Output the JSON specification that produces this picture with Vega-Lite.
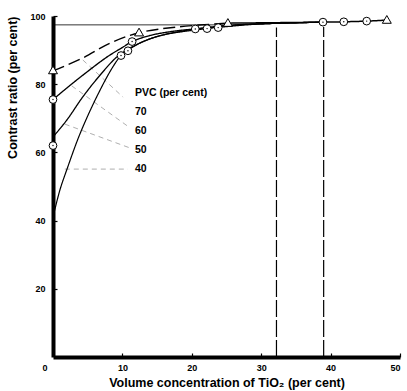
{
  "$schema": "https://vega.github.io/schema/vega-lite/v6.json",
  "width": 347,
  "height": 341,
  "autosize": {"type": "none"},
  "padding": {"left": 53, "top": 16, "right": 7, "bottom": 34},
  "background": "white",
  "config": {
    "view": {"stroke": null},
    "font": "Liberation Sans",
    "axis": {"grid": false, "domainColor": "black", "domainWidth": 4, "tickColor": "black", "tickWidth": 1.2, "labelFont": "Liberation Sans", "labelFontWeight": "bold", "labelFontSize": 9, "labelColor": "black", "titleFont": "Liberation Sans", "titleFontWeight": "bold", "titleFontSize": 12.5, "titleColor": "black"}
  },
  "datasets": {
    "curves": [
      {"series": "40", "x": 0, "y": 41}, {"series": "40", "x": 1, "y": 49}, {"series": "40", "x": 2, "y": 55}, {"series": "40", "x": 3.9, "y": 65.5}, {"series": "40", "x": 6.3, "y": 76.3}, {"series": "40", "x": 8.6, "y": 85}, {"series": "40", "x": 9.8, "y": 88.3}, {"series": "40", "x": 12, "y": 91.5}, {"series": "40", "x": 15, "y": 94}, {"series": "40", "x": 20.5, "y": 96.2}, {"series": "40", "x": 25, "y": 97.2}, {"series": "40", "x": 30, "y": 97.7}, {"series": "40", "x": 39, "y": 98.2},
      {"series": "50", "x": 0, "y": 64.5}, {"series": "50", "x": 2, "y": 69.5}, {"series": "50", "x": 4.3, "y": 76.3}, {"series": "50", "x": 6.8, "y": 82.7}, {"series": "50", "x": 9.2, "y": 88}, {"series": "50", "x": 10.6, "y": 90}, {"series": "50", "x": 13, "y": 92.5}, {"series": "50", "x": 16, "y": 94.5}, {"series": "50", "x": 22, "y": 96.3}, {"series": "50", "x": 25, "y": 97.2}, {"series": "50", "x": 30, "y": 97.7}, {"series": "50", "x": 39, "y": 98.2},
      {"series": "60", "x": 0, "y": 75.5}, {"series": "60", "x": 2, "y": 78.9}, {"series": "60", "x": 4.9, "y": 83.6}, {"series": "60", "x": 7.8, "y": 88}, {"series": "60", "x": 10.1, "y": 90.9}, {"series": "60", "x": 11.4, "y": 92.5}, {"series": "60", "x": 14, "y": 94.3}, {"series": "60", "x": 18, "y": 95.7}, {"series": "60", "x": 23.8, "y": 96.7}, {"series": "60", "x": 30, "y": 97.7}, {"series": "60", "x": 39, "y": 98.2},
      {"series": "70", "x": 0, "y": 83.9}, {"series": "70", "x": 4.3, "y": 87.7}, {"series": "70", "x": 8.2, "y": 92}, {"series": "70", "x": 12.4, "y": 95.1}, {"series": "70", "x": 18, "y": 96.8}, {"series": "70", "x": 25.2, "y": 97.9},
      {"series": "tail", "x": 25.2, "y": 97.9}, {"series": "tail", "x": 30, "y": 98}, {"series": "tail", "x": 39, "y": 98.2}, {"series": "tail", "x": 41.9, "y": 98.3}, {"series": "tail", "x": 45.2, "y": 98.5}, {"series": "tail", "x": 48.1, "y": 98.8}
    ],
    "leaders": [
      {"id": "70", "x": 4.3, "y": 87.1}, {"id": "70", "x": 10.1, "y": 76.2},
      {"id": "60", "x": 2.7, "y": 79.5}, {"id": "60", "x": 11.1, "y": 67.2},
      {"id": "50", "x": 1.7, "y": 68.3}, {"id": "50", "x": 11.1, "y": 61.3},
      {"id": "40", "x": 1.7, "y": 55.1}, {"id": "40", "x": 10.8, "y": 55.1}
    ],
    "labels": [
      {"x": 11.8, "y": 77.4, "text": "PVC (per cent)"},
      {"x": 11.8, "y": 71.8, "text": "70"},
      {"x": 11.8, "y": 66.3, "text": "60"},
      {"x": 11.8, "y": 60.7, "text": "50"},
      {"x": 11.8, "y": 55.1, "text": "40"}
    ],
    "circles": [
      {"x": 0, "y": 75.5}, {"x": 0, "y": 62}, {"x": 9.8, "y": 88.4}, {"x": 10.8, "y": 89.8}, {"x": 11.4, "y": 92.5},
      {"x": 20.5, "y": 96.2}, {"x": 22.2, "y": 96.3}, {"x": 23.8, "y": 96.6}, {"x": 38.9, "y": 98.2}, {"x": 41.9, "y": 98.3}, {"x": 45.2, "y": 98.5}
    ],
    "triangles": [
      {"x": 0, "y": 84.2}, {"x": 12.4, "y": 95.3}, {"x": 25.2, "y": 98.1}, {"x": 48.1, "y": 99}
    ],
    "vlines": [{"x": 32.2, "y": 0, "y2": 96.6}, {"x": 39, "y": 0, "y2": 96.8}],
    "hline": [{"x": 0, "x2": 25, "y": 97.4}],
    "origin": [{"x": 0, "y": 0, "text": "0"}]
  },
  "layer": [
    {
      "data": {"name": "hline"},
      "mark": {"type": "rule", "color": "black", "strokeWidth": 0.8},
      "encoding": {
        "x": {"field": "x", "type": "quantitative", "scale": {"domain": [0, 50], "nice": false}, "axis": {"values": [10, 20, 30, 40, 50], "tickSize": -4, "labelPadding": 10, "title": "Volume concentration of TiO₂ (per cent)", "titlePadding": 4}},
        "x2": {"field": "x2"},
        "y": {"field": "y", "type": "quantitative", "scale": {"domain": [0, 100], "nice": false}, "axis": {"values": [20, 40, 60, 80, 100], "tickSize": -4, "labelPadding": 12, "title": "Contrast ratio (per cent)", "titleAnchor": "end", "titlePadding": 10}}
      }
    },
    {
      "data": {"name": "vlines"},
      "mark": {"type": "rule", "color": "black", "strokeWidth": 1.2, "strokeDash": [17, 3]},
      "encoding": {
        "x": {"field": "x", "type": "quantitative"},
        "y": {"field": "y", "type": "quantitative"},
        "y2": {"field": "y2"}
      }
    },
    {
      "data": {"name": "leaders"},
      "mark": {"type": "line", "color": "#9a9a9a", "strokeWidth": 0.8, "strokeDash": [5, 4]},
      "encoding": {
        "x": {"field": "x", "type": "quantitative"},
        "y": {"field": "y", "type": "quantitative"},
        "detail": {"field": "id"}
      }
    },
    {
      "data": {"name": "curves"},
      "mark": {"type": "line", "color": "black", "interpolate": "catmull-rom"},
      "encoding": {
        "x": {"field": "x", "type": "quantitative"},
        "y": {"field": "y", "type": "quantitative"},
        "detail": {"field": "series"},
        "strokeDash": {"field": "series", "type": "nominal", "scale": {"domain": ["40", "50", "60", "70", "tail"], "range": [[1, 0], [1, 0], [1, 0], [12, 5], [1, 0]]}, "legend": null},
        "strokeWidth": {"field": "series", "type": "nominal", "scale": {"domain": ["40", "50", "60", "70", "tail"], "range": [1.2, 1.5, 1.5, 1.5, 1.2]}, "legend": null}
      }
    },
    {
      "data": {"name": "labels"},
      "mark": {"type": "text", "align": "left", "baseline": "middle", "fontSize": 10.5, "fontWeight": "bold", "font": "Liberation Sans", "color": "black"},
      "encoding": {
        "x": {"field": "x", "type": "quantitative"},
        "y": {"field": "y", "type": "quantitative"},
        "text": {"field": "text"}
      }
    },
    {
      "data": {"name": "circles"},
      "mark": {"type": "point", "shape": "circle", "size": 60, "filled": false, "fill": "white", "fillOpacity": 1, "stroke": "black", "strokeWidth": 1, "opacity": 1},
      "encoding": {
        "x": {"field": "x", "type": "quantitative"},
        "y": {"field": "y", "type": "quantitative"}
      }
    },
    {
      "data": {"name": "circles"},
      "mark": {"type": "point", "shape": "circle", "size": 2, "filled": true, "color": "black", "opacity": 1},
      "encoding": {
        "x": {"field": "x", "type": "quantitative"},
        "y": {"field": "y", "type": "quantitative"}
      }
    },
    {
      "data": {"name": "triangles"},
      "mark": {"type": "point", "shape": "triangle-up", "size": 80, "filled": false, "fill": "white", "fillOpacity": 1, "stroke": "black", "strokeWidth": 1, "opacity": 1},
      "encoding": {
        "x": {"field": "x", "type": "quantitative"},
        "y": {"field": "y", "type": "quantitative"}
      }
    },
    {
      "data": {"name": "origin"},
      "mark": {"type": "text", "dx": -8, "dy": 11, "fontSize": 9, "fontWeight": "bold", "font": "Liberation Sans", "color": "black"},
      "encoding": {
        "x": {"field": "x", "type": "quantitative"},
        "y": {"field": "y", "type": "quantitative"},
        "text": {"field": "text"}
      }
    }
  ]
}
